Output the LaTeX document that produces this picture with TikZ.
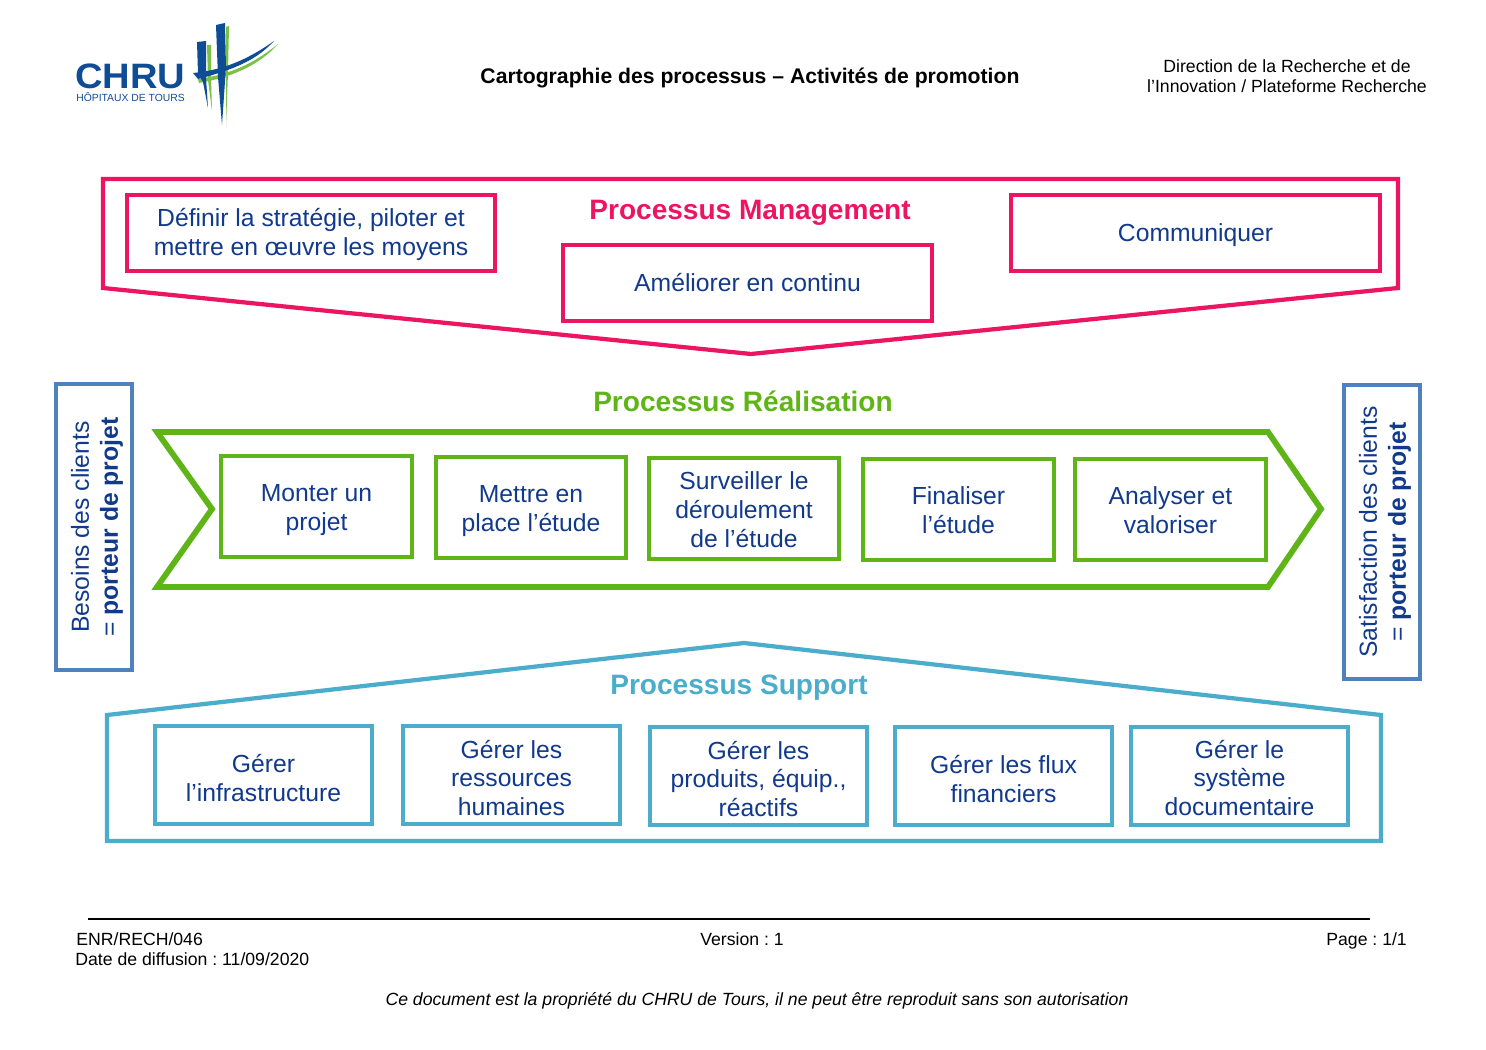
\documentclass[tikz,border=0pt]{standalone}
\usepackage{fontspec}
\setmainfont{Liberation Sans}
\frenchspacing
\definecolor{mgtpink}{HTML}{EC1561}
\definecolor{realgreen}{HTML}{5FB517}
\definecolor{suppcyan}{HTML}{4BADCB}
\definecolor{sideblue}{HTML}{4F81BD}
\definecolor{textblue}{HTML}{123A8C}
\definecolor{logoblue}{HTML}{0F4C96}
\definecolor{logogreen}{HTML}{7AC143}
\tikzset{
	procbox/.style={draw,line width=2.2pt,fill=white,inner sep=0pt},
	proctext/.style={inner sep=0pt,align=center,text=textblue,font=\fontsize{14}{16.4}\selectfont},
	proctitle/.style={anchor=base,font=\fontsize{15.9}{18}\selectfont\bfseries},
	sidebox/.style={draw=sideblue,line width=2.2pt,fill=white,inner sep=0pt,rotate=90},
	headtext/.style={align=center,font=\fontsize{10}{11.3}\selectfont},
	foottext/.style={anchor=base west,inner sep=0pt,font=\fontsize{10}{11.3}\selectfont}
}
\begin{document}
\begin{tikzpicture}[x=0.5666pt,y=-0.5666pt]
	\useasboundingbox (0,0) rectangle (1486,1050);
	% draw logo
	\fill[logogreen] (207,45) -- (211,45) -- (211,78) -- (212,111) -- (208,80) -- cycle;
	\fill[logogreen] (226,27) -- (229,26) -- (228,73) -- (226,127) -- cycle;
	\fill[logogreen] (198,79) .. controls (235,74) and (258,60) .. (278,44) .. controls (262,62) and (238,76) .. (199,83) -- cycle;
	\fill[logoblue] (197,42) -- (206,41) -- (206,78) -- (208,108) -- (203,82) -- (198,74) -- cycle;
	\fill[logoblue] (216,25) -- (225,23) -- (226,67) -- (222,125) -- (218,77) -- cycle;
	\fill[logoblue] (193,73) .. controls (225,70) and (250,58) .. (274,41) .. controls (258,58) and (240,68) .. (198,79) -- cycle;
	\node[anchor=west,inner sep=0pt,text=logoblue,xscale=1.08] (logoname) at (75,76) {\fontsize{20}{22}\selectfont\bfseries CHRU};
	\node[anchor=west,inner sep=0pt,text=logoblue] (logotown) at (76,97) {\fontsize{5.87}{6}\selectfont HÔPITAUX DE TOURS};
	% header
	\node (title) at (750,78) {\fontsize{12}{14}\selectfont\bfseries Cartographie des processus – Activités de promotion};
	\node[headtext] (direction) at (1287,76) {Direction de la Recherche et de\\l’Innovation / Plateforme Recherche};
	% draw management
	\draw[mgtpink,line width=2.4pt] (103,179) -- (1398,179) -- (1398,288) -- (751,354) -- (103,288) -- cycle;
	\node[proctitle,text=mgtpink] (mgttitle) at (750,220) {Processus Management};
	\foreach \name/\xa/\ya/\xb/\yb/\dy/\txt in {
		strategy/127/195/495/271/1/{Définir la stratégie, piloter et\\mettre en œuvre les moyens},
		improve/563/245/932/321/0/{Améliorer en continu},
		communicate/1011/195/1380/271/2/{Communiquer}}
	{
		\node[procbox,draw=mgtpink,line width=2.6pt,minimum width=(\xb-\xa)*0.5666pt,minimum height=(\yb-\ya)*0.5666pt] (\name) at ({(\xa+\xb)/2},{(\ya+\yb)/2}) {};
		\node[proctext,yshift=-\dy*0.5666pt] (\name text) at (\name) {\txt};
	}
	% draw realisation
	\node[proctitle,text=realgreen] (realtitle) at (743,411) {Processus Réalisation};
	\draw[realgreen,line width=3.3pt,miter limit=10] (157,432) -- (1268,432) -- (1321,509) -- (1268,587) -- (157,587) -- (212,509) -- cycle;
	\foreach \name/\xa/\ya/\xb/\yb/\dy/\txt in {
		setup/221/456/412/557/4/{Monter un\\projet},
		launch/436/457/626/558/4/{Mettre en\\place l’étude},
		monitor/649/458/839/559/1/{Surveiller le\\déroulement\\de l’étude},
		finish/863/459/1054/560/1/{Finaliser\\l’étude},
		analyse/1075/459/1266/560/1/{Analyser et\\valoriser}}
	{
		\node[procbox,draw=realgreen,line width=1.9pt,minimum width=(\xb-\xa)*0.5666pt,minimum height=(\yb-\ya)*0.5666pt] (\name) at ({(\xa+\xb)/2},{(\ya+\yb)/2}) {};
		\node[proctext,yshift=-\dy*0.5666pt] (\name text) at (\name) {\txt};
	}
	% draw support
	\draw[suppcyan,line width=2.4pt] (107,715) -- (744,643) -- (1381,715) -- (1381,841) -- (107,841) -- cycle;
	\node[proctitle,text=suppcyan] (supptitle) at (739,694) {Processus Support};
	\foreach \name/\xa/\ya/\xb/\yb/\dy/\txt in {
		infra/155/726/372/824/3/{Gérer\\l’infrastructure},
		staff/403/726/620/824/3/{Gérer les\\ressources\\humaines},
		products/650/727/867/825/3/{Gérer les\\produits, équip.,\\réactifs},
		funds/895/727/1112/825/3/{Gérer les flux\\financiers},
		documents/1131/727/1348/825/2/{Gérer le\\système\\documentaire}}
	{
		\node[procbox,draw=suppcyan,minimum width=(\xb-\xa)*0.5666pt,minimum height=(\yb-\ya)*0.5666pt] (\name) at ({(\xa+\xb)/2},{(\ya+\yb)/2}) {};
		\node[proctext,yshift=-\dy*0.5666pt] (\name text) at (\name) {\txt};
	}
	% side boxes
	\node[sidebox,minimum width=286*0.5666pt,minimum height=76*0.5666pt] (needs) at (94,527) {};
	\node[proctext,rotate=90,yshift=-3*0.5666pt] (needs text) at (needs) {Besoins des clients\\= \textbf{porteur de projet}};
	\node[sidebox,minimum width=294*0.5666pt,minimum height=76*0.5666pt] (satisfaction) at (1382,532) {};
	\node[proctext,rotate=90,yshift=-3*0.5666pt] (satisfaction text) at (satisfaction) {Satisfaction des clients\\= \textbf{porteur de projet}};
	% footer
	\coordinate (ruleleft) at (88,919);
	\coordinate (ruleright) at (1370,919);
	\draw[line width=0.8pt] (ruleleft) -- (ruleright);
	\node[foottext] (reference) at (76,945) {ENR/RECH/046};
	\node[foottext] (diffusion) at (75,965) {Date de diffusion : 11/09/2020};
	\node[foottext] (version) at (700,945) {Version : 1};
	\node[foottext] (page) at (1326,945) {Page : 1/1};
	\node[foottext,anchor=base] (notice) at (757,1005) {\itshape Ce document est la propriété du CHRU de Tours, il ne peut être reproduit sans son autorisation};
\end{tikzpicture}
\end{document}
